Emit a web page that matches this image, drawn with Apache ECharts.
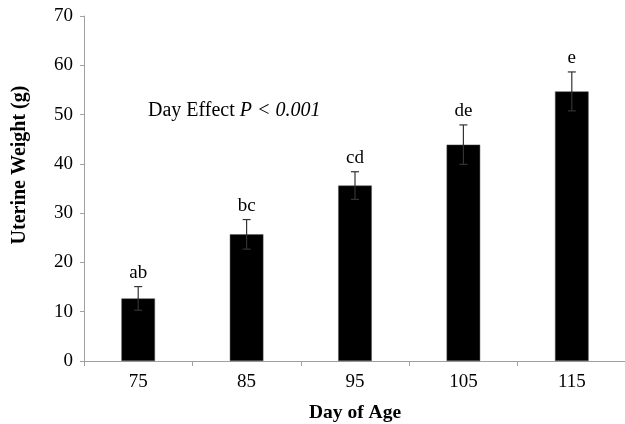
<!DOCTYPE html>
<html><head><meta charset="utf-8">
<script src="https://cdn.jsdelivr.net/npm/echarts@6/dist/echarts.min.js"></script>
<style>html,body{margin:0;padding:0;background:#fff}#c{width:625px;height:424px}</style>
</head><body><div id="c"></div>
<script>
const categories = ['75', '85', '95', '105', '115'];
const means = [12.7, 25.7, 35.6, 43.9, 54.7];
const errors = [2.4, 3.0, 2.8, 4.0, 3.95];
const letters = ['ab', 'bc', 'cd', 'de', 'e'];
const yTicks = [0, 10, 20, 30, 40, 50, 60, 70];

const serif = '"Liberation Serif", "Times New Roman", serif';
const chart = echarts.init(document.getElementById('c'));
const errData = categories.map((c, i) => [i, means[i], errors[i]]);

chart.setOption({
  animation: false,
  grid: { left: 84, right: -1, top: 16, bottom: 63, outerBoundsMode: 'none', containLabel: false },
  xAxis: {
    type: 'category', data: categories,
    axisLine: { lineStyle: { color: '#a0a0a0', width: 1 } },
    axisTick: { show: true, length: 5, lineStyle: { color: '#a0a0a0' } },
    axisLabel: { color: '#000', fontFamily: serif, fontSize: 19, margin: 12 },
    name: 'Day of Age', nameLocation: 'middle', nameGap: 42,
    nameTextStyle: { color: '#000', fontFamily: serif, fontSize: 19.5, fontWeight: 'bold' }
  },
  yAxis: {
    type: 'value', min: yTicks[0], max: yTicks[yTicks.length - 1], interval: 10,
    axisLine: { show: true, lineStyle: { color: '#a0a0a0', width: 1 } },
    axisTick: { show: true, length: 4, lineStyle: { color: '#a0a0a0' } },
    splitLine: { show: false },
    axisLabel: { color: '#000', fontFamily: serif, fontSize: 19, margin: 11 }
  },
  series: [
    {
      type: 'bar', data: means, barWidth: '31%',
      itemStyle: { color: '#000', borderColor: '#555', borderWidth: 0.5 }
    },
    {
      type: 'custom', data: errData, z: 10,
      renderItem: function (params, api) {
        const i = api.value(0), m = api.value(1), e = api.value(2);
        const top = api.coord([i, m + e]);
        const bot = api.coord([i, m - e]);
        const x = top[0], cw = 4;
        const st = { stroke: '#333', lineWidth: 1.2 };
        return {
          type: 'group',
          children: [
            { type: 'line', shape: { x1: x, y1: top[1], x2: x, y2: bot[1] }, style: st },
            { type: 'line', shape: { x1: x - cw, y1: top[1], x2: x + cw, y2: top[1] }, style: st },
            { type: 'line', shape: { x1: x - cw, y1: bot[1], x2: x + cw, y2: bot[1] }, style: st },
            { type: 'text', x: x, y: top[1] - 14,
              style: { text: letters[i], fill: '#000', font: '19px ' + serif, align: 'center', verticalAlign: 'middle' } }
          ]
        };
      }
    }
  ],
  graphic: [
    {
      type: 'text', left: 148, top: 101,
      style: {
        text: 'Day Effect {i|P < 0.001}',
        font: '20px ' + serif, fill: '#000',
        rich: { i: { fontStyle: 'italic', fontFamily: serif, fontSize: 20, fill: '#000' } }
      }
    },
    {
      type: 'text', x: 20, y: 165, rotation: Math.PI / 2,
      style: {
        text: 'Uterine Weight (g)', font: 'bold 20px ' + serif, fill: '#000',
        align: 'center', verticalAlign: 'middle'
      }
    }
  ]
});
</script></body></html>
